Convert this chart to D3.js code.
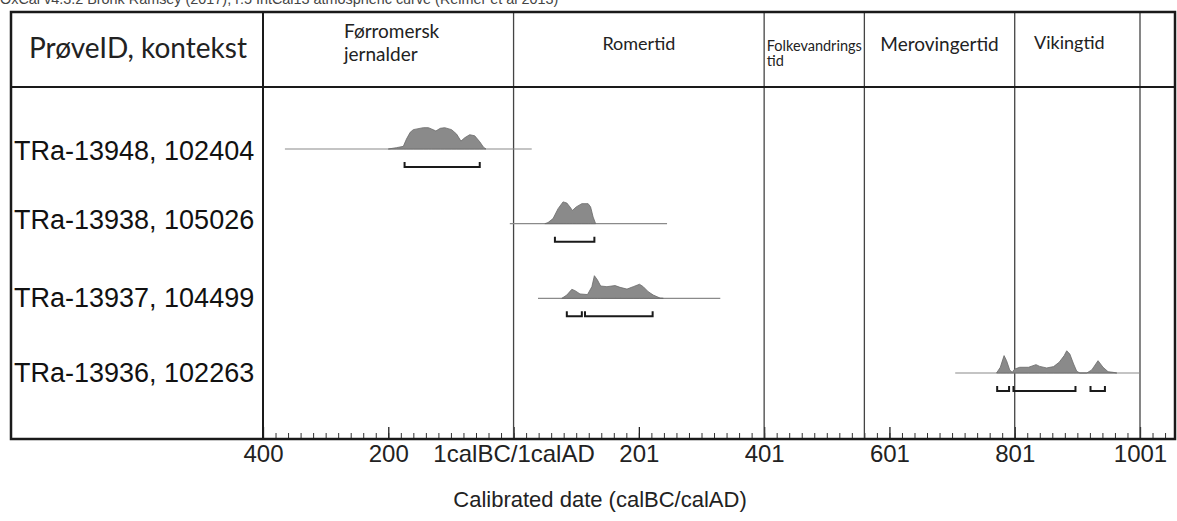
<!DOCTYPE html>
<html><head><meta charset="utf-8">
<script src="https://cdn.jsdelivr.net/npm/d3@7"></script>
<style>body{margin:0;background:#fff;overflow:hidden}</style>
</head><body>
<svg id="chart" width="1177" height="521"></svg>
<script>
// ---------- data ----------
const caption = "OxCal v4.3.2 Bronk Ramsey (2017); r:5 IntCal13 atmospheric curve (Reimer et al 2013)";
const headerLabel = "PrøveID, kontekst";
const samples = ["TRa-13948, 102404", "TRa-13938, 105026", "TRa-13937, 104499", "TRa-13936, 102263"];
const rangeStart = [-365, -6, 39, 705];
const rangeEnd = [29, 245, 330, 1000];
const dist13948 = [[-200,0],[-187,0.06],[-176,0.12],[-171,0.45],[-165,0.76],[-160,0.88],[-144,0.97],[-136,0.97],[-131,0.91],[-124,0.82],[-117,0.94],[-110,0.97],[-99,0.88],[-91,0.68],[-84,0.36],[-78,0.51],[-70,0.65],[-62,0.6],[-54,0.33],[-48,0.08],[-44,0]];
const dist13938 = [[50,0],[55,0.05],[63,0.23],[71,0.68],[79,0.99],[85,0.94],[90,0.76],[94,0.6],[100,0.76],[109,0.91],[119,0.91],[123,0.76],[127,0.3],[131,0]];
const dist13937 = [[77,0],[85,0.15],[93,0.41],[98,0.35],[106,0.2],[118,0.17],[125,0.53],[129,1.03],[134,0.83],[139,0.56],[149,0.53],[162,0.58],[170,0.5],[181,0.42],[191,0.53],[201,0.64],[207,0.53],[215,0.3],[223,0.15],[234,0.01],[239,0]];
const dist13936 = [[771,0],[777,0.26],[783,0.79],[787,0.56],[792,0.14],[796,0.03],[800,0.18],[808,0.26],[822,0.26],[834,0.38],[840,0.3],[851,0.23],[862,0.29],[871,0.49],[879,0.79],[883,1.01],[888,0.86],[894,0.41],[899,0.08],[904,0],[915,0],[923,0.14],[933,0.56],[941,0.26],[949,0.06],[957,0.03],[963,0]];
const distributions = [dist13948, dist13938, dist13937, dist13936];
const hpd13948 = [[-174,-54]];
const hpd13938 = [[66,129]];
const hpd13937 = [[85,109],[114,222]];
const hpd13936 = [[772,791],[798,897],[921,944]];
const hpdRanges = [hpd13948, hpd13938, hpd13937, hpd13936];
const periodNames = [["Førromersk","jernalder"],["Romertid"],["Folkevandrings","tid"],["Merovingertid"],["Vikingtid"]];
const periodStart = [-400, 0, 400, 560, 800];
const periodEnd = [0, 400, 560, 800, 1000];
const tickValues = [-400,-200,0,200,400,600,800,1000];
const tickLabels = ["400","200","1calBC/1calAD","201","401","601","801","1001"];
const axisTitle = "Calibrated date (calBC/calAD)";

// ---------- layout ----------
const svg = d3.select("#chart");
const L = 11, R = 1175, T = 12, HB = 87, AY = 439;
const x = d3.scaleLinear().domain([-400, 1000]).range([263, 1140]);
const rowY = d3.scalePoint().domain(samples).range([149, 373]);
const h = d3.scaleLinear().domain([0, 1]).range([0, 22]);
const sansA = "'Liberation Sans', Arial, sans-serif";
const sansH = "Lato, 'Open Sans', sans-serif";

// caption (cut at top, as in the source figure)
svg.append("text").attr("x", 0).attr("y", 4).attr("font-family", sansA).attr("font-size", 14.4)
  .attr("fill", "#444").text(caption);

// minor + major ticks
const minor = d3.range(-400, 1060, 20);
svg.append("g").attr("transform", `translate(0,${AY})`)
  .call(d3.axisBottom(x).tickValues(minor).tickSize(-6).tickFormat(""))
  .call(g => { g.select(".domain").remove(); g.selectAll("line").attr("stroke", "#333"); });
svg.append("g").attr("transform", `translate(0,${AY})`)
  .call(d3.axisBottom(x).tickValues(tickValues).tickSize(-12).tickPadding(6)
    .tickFormat((d, i) => tickLabels[i]))
  .call(g => {
    g.select(".domain").remove();
    g.selectAll("line").attr("stroke", "#222").attr("stroke-width", 1.3);
    g.selectAll("text").attr("font-family", sansA).attr("font-size", 24).attr("fill", "#222");
  });

// period separator lines
svg.append("g").selectAll("line").data(periodEnd).join("line")
  .attr("x1", d => x(d)).attr("x2", d => x(d)).attr("y1", T).attr("y2", AY)
  .attr("stroke", "#444").attr("stroke-width", 1.3);

// frame
const frame = svg.append("g").attr("stroke", "#1a1a1a").attr("fill", "none");
frame.append("rect").attr("x", L).attr("y", T).attr("width", R - L).attr("height", AY - T).attr("stroke-width", 2.5);
frame.append("line").attr("x1", L).attr("x2", R).attr("y1", HB).attr("y2", HB).attr("stroke-width", 2);
frame.append("line").attr("x1", x(-400)).attr("x2", x(-400)).attr("y1", T).attr("y2", AY).attr("stroke-width", 2);

// header labels
svg.append("text").attr("x", (L + x(-400)) / 2 + 1).attr("y", 58).attr("text-anchor", "middle")
  .attr("font-family", sansH).attr("font-size", 28).attr("fill", "#222").text(headerLabel);

const pSizes = [19, 18, 14.5, 19, 18];
const pBase = [[38, 61], [50], [51, 66], [51], [49]];
const pShift = [4, 0, 0, 0, -8];
periodNames.forEach((lines, i) => {
  const g = svg.append("g");
  lines.forEach((t, j) => {
    g.append("text").attr("x", 0).attr("y", pBase[i][j]).attr("font-family", sansH)
      .attr("font-size", pSizes[i]).attr("fill", "#222").text(t);
  });
  const w = g.node().getBBox().width;
  const cx = (x(periodStart[i]) + x(periodEnd[i])) / 2;
  g.attr("transform", `translate(${Math.max(cx - w / 2, x(periodStart[i]) + 2) + pShift[i]},0)`);
});

// row labels
const labelDy = [1, -4, -1, -1];
svg.append("g").selectAll("text").data(samples).join("text")
  .attr("x", 14).attr("y", (d, i) => rowY(d) + labelDy[i]).attr("dy", "0.36em")
  .attr("font-family", sansA).attr("font-size", 27).attr("fill", "#111").text(d => d);

// distributions
samples.forEach((s, i) => {
  const y0 = rowY(s);
  svg.append("line").attr("x1", x(rangeStart[i])).attr("x2", x(rangeEnd[i]))
    .attr("y1", y0).attr("y2", y0).attr("stroke", "#8a8a8a").attr("stroke-width", 1.2);
  const area = d3.area().x(d => x(d[0])).y0(y0).y1(d => y0 - h(d[1]));
  svg.append("path").datum(distributions[i]).attr("d", area)
    .attr("fill", "#8a8a8a").attr("stroke", "#6a6a6a").attr("stroke-width", 0.8);
  const by = y0 + 18;
  hpdRanges[i].forEach(r => {
    const x1 = x(r[0]), x2 = x(r[1]);
    svg.append("path").attr("d", `M${x1},${by - 5}V${by}H${x2}V${by - 5}`)
      .attr("fill", "none").attr("stroke", "#1a1a1a").attr("stroke-width", 2);
  });
});

// axis title
svg.append("text").attr("x", 600).attr("y", 507).attr("text-anchor", "middle")
  .attr("font-family", sansA).attr("font-size", 22).attr("fill", "#222").text(axisTitle);
</script>
</body></html>
